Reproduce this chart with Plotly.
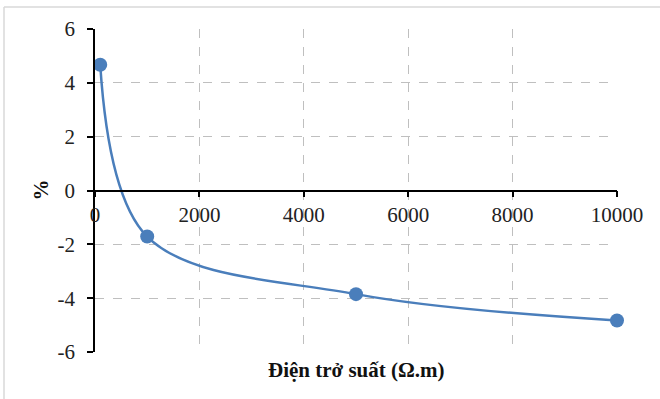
import plotly.graph_objects as go

resistivity = [100, 1000, 5000, 10000]
percent = [4.67, -1.71, -3.85, -4.83]
x_ticks = [0, 2000, 4000, 6000, 8000, 10000]
y_ticks = [-6, -4, -2, 0, 2, 4, 6]
y_tick_labels = ["-6", "-4", "-2", "0", "2", "4", "6"]
x_title = "Điện trở suất (Ω.m)"
y_title = "%"

W, H = 660, 399
L, R, T, B = 95, 43, 29, 47
pw, ph = W - L - R, H - T - B

fam = "'Times New Roman', 'Liberation Serif', 'DejaVu Serif', serif"

fig = go.Figure()
fig.add_trace(go.Scatter(
    x=resistivity, y=percent, mode="lines+markers",
    line=dict(color="#4A7EBB", width=2.5, shape="spline", smoothing=1.0),
    marker=dict(color="#4A7EBB", size=14),
    showlegend=False, cliponaxis=False,
))

tfont = dict(family=fam, size=21, color="#222")

fig.update_layout(
    width=W, height=H,
    margin=dict(l=L, r=R, t=T, b=B),
    paper_bgcolor="white", plot_bgcolor="white",
    font=tfont,
    xaxis=dict(
        range=[0, 10000], tickvals=x_ticks, ticktext=[str(v) for v in x_ticks],
        showgrid=True, gridcolor="#BFBFBF", griddash="dash", gridwidth=1,
        zeroline=False, showline=True, linecolor="black", linewidth=1.5,
        ticks="outside", ticklen=6, tickcolor="black", tickwidth=1.5,
        anchor="free", position=0.5, mirror=False,
        tickfont=tfont,
    ),
    yaxis=dict(
        range=[-6, 6], tickvals=y_ticks, ticktext=y_tick_labels,
        showgrid=True, gridcolor="#BFBFBF", griddash="dash", gridwidth=1,
        zeroline=False, showline=True, linecolor="black", linewidth=1.5,
        ticks="outside", ticklen=6, tickcolor="black", tickwidth=1.5,
        ticklabelstandoff=8,
        tickfont=tfont,
    ),
    annotations=[
        dict(text="<b>" + x_title + "</b>", xref="paper", yref="paper",
             x=0.5, y=-(370 - (T + ph)) / ph, xanchor="center", yanchor="middle",
             showarrow=False, font=dict(family=fam, size=21, color="#111")),
        dict(text="<b>" + y_title + "</b>", xref="paper", yref="paper",
             x=-(L - 40) / pw, y=0.5, xanchor="center", yanchor="middle",
             textangle=-90, showarrow=False,
             font=dict(family=fam, size=21, color="#111")),
    ],
    shapes=[
        dict(type="line", xref="paper", yref="paper",
             x0=-(L - 4) / pw, x1=-(L - 4) / pw, y0=1 + (T - 7) / ph, y1=-(B) / ph,
             line=dict(color="#D9D9D9", width=1.5)),
        dict(type="line", xref="paper", yref="paper",
             x0=-(L - 4) / pw, x1=(W - L) / pw, y0=1 + (T - 7) / ph, y1=1 + (T - 7) / ph,
             line=dict(color="#D9D9D9", width=1.5)),
    ],
)

fig.write_html("out.html")
